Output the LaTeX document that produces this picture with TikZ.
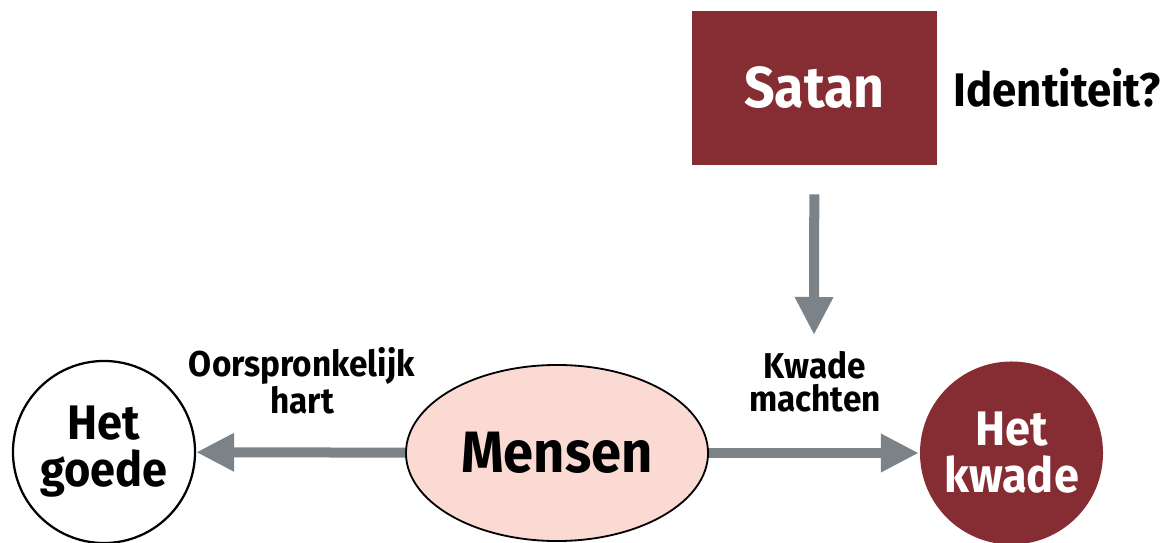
\documentclass[tikz,border=0pt]{standalone}
\usepackage{fontspec}
\setmainfont{Fira Sans}[FakeStretch=0.93]
\usetikzlibrary{arrows.meta, shapes.geometric}
\definecolor{wine}{HTML}{862D33}
\definecolor{blush}{HTML}{FCDAD4}
\definecolor{slate}{HTML}{7B8288}
\tikzset{box/.style = {fill = wine, text = white, minimum width = 6.125cm, minimum height = 3.85cm, inner sep = 0},
  ring/.style = {circle, draw, line width = 1.6pt, inner sep = 0, align = center, font = \bfseries\fontsize{34.5}{33.4}\selectfont},
  blob/.style = {ellipse, draw, fill = blush, line width = 1.3pt, inner sep = 0, minimum width = 7.55cm, minimum height = 4.4cm},
  push/.style = {slate, line width = 0.25cm, -{Triangle[length = 0.95cm, width = 0.9cm]}},
  tag/.style = {align = center, font = \bfseries\fontsize{25.5}{23.5}\selectfont}}

\begin{document}
\begin{tikzpicture}[x = 0.025cm, y = -0.025cm]
    \useasboundingbox (0, 0) rectangle (1169, 543);

    \node [box, font = \bfseries\fontsize{41}{44}\selectfont] (satan) at (814.5, 88) {Satan};
    \node [font = \bfseries\fontsize{33.5}{42}\selectfont] (who) at (1057, 88) {Identiteit?};

    \node [blob, font = \bfseries\fontsize{41.5}{42}\selectfont] (mensen) at (557, 453) {Mensen};
    \node [ring, fill = white, minimum size = 4.55cm] (goede) at (104, 452) {Het\\goede};
    \node [ring, draw = none, fill = wine, text = white, minimum size = 4.575cm] (kwade) at (1011.5, 453) {Het\\kwade};

    \node [tag] (hart) at (302, 381) {Oorspronkelijk\\hart};
    \node [tag] (machten) at (815, 382) {Kwade\\machten};

    \coordinate (hit) at (814, 335);

    \draw [push] (mensen) -- (goede);
    \draw [push] (mensen) -- (kwade);
    \draw [push, shorten <= 0.725cm] (satan) -- (hit);
  \end{tikzpicture}
\end{document}
